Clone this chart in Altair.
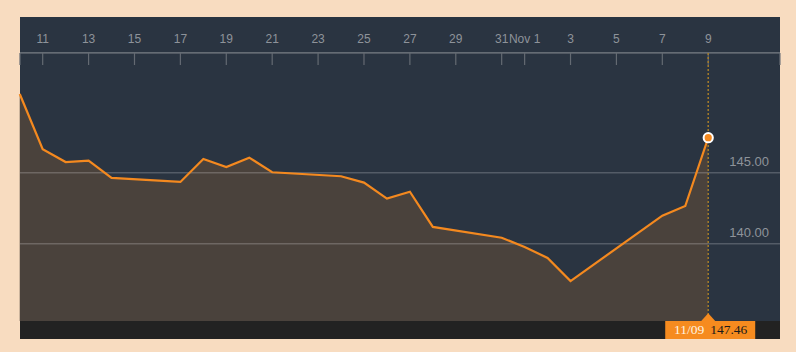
import altair as alt
import pandas as pd

# ---- data ----
dates = ["2022-10-10", "2022-10-11", "2022-10-12", "2022-10-13", "2022-10-14",
         "2022-10-17", "2022-10-18", "2022-10-19", "2022-10-20", "2022-10-21",
         "2022-10-24", "2022-10-25", "2022-10-26", "2022-10-27", "2022-10-28",
         "2022-10-31", "2022-11-01", "2022-11-02", "2022-11-03", "2022-11-07",
         "2022-11-08", "2022-11-09"]
values = [150.54, 146.65, 145.75, 145.85, 144.63,
          144.35, 145.96, 145.40, 146.06, 145.03,
          144.75, 144.30, 143.17, 143.66, 141.18,
          140.42, 139.77, 139.00, 137.37, 141.97,
          142.65, 147.46]

label_dates = ["2022-10-11", "2022-10-13", "2022-10-15", "2022-10-17", "2022-10-19",
               "2022-10-21", "2022-10-23", "2022-10-25", "2022-10-27", "2022-10-29",
               "2022-10-31", "2022-11-01", "2022-11-03", "2022-11-05", "2022-11-07",
               "2022-11-09"]
label_texts = ["11", "13", "15", "17", "19", "21", "23", "25", "27", "29",
               "31", "Nov 1", "3", "5", "7", "9"]
edge_tick_dates = ["2022-10-10T00:16:00Z", "2022-11-12T03:00:00Z"]
grid_values = [145, 140]
grid_labels = ["145.00", "140.00"]

# ---- scale limits ----
Y_MIN, Y_MAX = 133.29, 155.96
BASE = 134.56
AXIS_Y = 153.43
TICK_END = 152.58
LABEL_Y = 154.42
TEXT_Y = 133.92

df = pd.DataFrame({"date": dates, "value": values})
last = df.iloc[[-1]].copy()
last["day_label"] = pd.to_datetime(last["date"]).dt.strftime("%m/%d")
last["value_label"] = last["value"].map(lambda v: f"{v:.2f}")
labels_df = pd.DataFrame({"date": label_dates, "lab": label_texts})
ticks_df = pd.DataFrame({"date": label_dates + edge_tick_dates})
grid_df = pd.DataFrame({"v": grid_values, "lab": grid_labels})

xs = alt.Scale(type="utc", domain=[
    alt.DateTime(year=2022, month=10, date=10, hours=0, minutes=16, utc=True),
    alt.DateTime(year=2022, month=11, date=12, hours=3, minutes=4, utc=True)])
ys = alt.Scale(domain=[Y_MIN, Y_MAX], nice=False, zero=False)

X = lambda: alt.X("date:T", scale=xs, axis=None)
Yd = lambda v: alt.Y(datum=v, type="quantitative", scale=ys, axis=None)

area = alt.Chart(df).mark_area(color="#4a423c", opacity=1).encode(
    x=X(), y=alt.Y("value:Q", scale=ys, axis=None), y2=alt.Y2(datum=BASE),
)

grid = alt.Chart(grid_df).mark_rule(color="white", opacity=0.2, strokeWidth=1.5).encode(
    y=alt.Y("v:Q", scale=ys, axis=None)
)

grid_text = alt.Chart(grid_df).mark_text(
    align="right", baseline="middle", dy=-11, fontSize=13,
    font="Liberation Sans", color="#8e939a"
).encode(x=alt.value(749), y=alt.Y("v:Q", scale=ys, axis=None), text="lab:N")

axis_line = alt.Chart(grid_df.iloc[[0]]).mark_rule(color="#7a7f86", strokeWidth=1.3).encode(
    y=Yd(AXIS_Y)
)

ticks = alt.Chart(ticks_df).mark_rule(color="#646a72", strokeWidth=1.2).encode(
    x=X(), y=Yd(AXIS_Y), y2=alt.Y2(datum=TICK_END)
)

top_labels = alt.Chart(labels_df).mark_text(
    fontSize=12, font="Liberation Sans", color="#8e939a", align="center", baseline="middle"
).encode(x=X(), y=Yd(LABEL_Y), text="lab:N")

vrule = alt.Chart(last).mark_rule(color="#a57d2a", strokeDash=[2, 2], strokeWidth=1.5).encode(
    x=X(), y=Yd(AXIS_Y), y2=alt.Y2(datum=BASE)
)

line = alt.Chart(df).mark_line(color="#f4891f", strokeWidth=2.2).encode(
    x=X(), y=alt.Y("value:Q", scale=ys, axis=None)
)

bottom_bar = alt.Chart(last).mark_rect(color="#222222").encode(
    x=alt.value(0), x2=alt.value(760), y=Yd(BASE), y2=alt.Y2(datum=Y_MIN)
)

box = alt.Chart(last).mark_rect(color="#f68b1f", xOffset=-43, x2Offset=47).encode(
    x=X(), x2=alt.X2("date"), y=Yd(BASE), y2=alt.Y2(datum=Y_MIN)
)

tri = alt.Chart(last).mark_point(shape="M-1,0L0,-1.1L1,0Z", filled=True, color="#f68b1f",
                                 size=196, opacity=1, strokeWidth=0).encode(
    x=X(), y=Yd(BASE)
)

pt = alt.Chart(last).mark_circle(color="#f4891f", size=85, opacity=1,
                                 stroke="white", strokeWidth=2).encode(
    x=X(), y=alt.Y("value:Q", scale=ys, axis=None)
)

txt_day = alt.Chart(last).mark_text(font="Liberation Serif", fontSize=13.5, color="#fff3e0",
                                    dx=-19, align="center", baseline="middle").encode(
    x=X(), y=Yd(TEXT_Y), text="day_label:N"
)
txt_val = alt.Chart(last).mark_text(font="Liberation Serif", fontSize=13.5, color="#1a1a1a",
                                    dx=20.5, align="center", baseline="middle").encode(
    x=X(), y=Yd(TEXT_Y), text="value_label:N"
)

chart = alt.layer(
    area, grid, grid_text, axis_line, ticks, top_labels, vrule, line,
    bottom_bar, box, tri, pt, txt_day, txt_val
).properties(
    width=760, height=322,
    padding={"left": 20, "top": 17, "right": 16, "bottom": 13},
    autosize=alt.AutoSizeParams(type="none"),
).configure(background="#f8dcc0").configure_view(stroke=None, fill="#2a3441")

chart.save("out.html", embed_options={"renderer": "svg", "actions": False})
